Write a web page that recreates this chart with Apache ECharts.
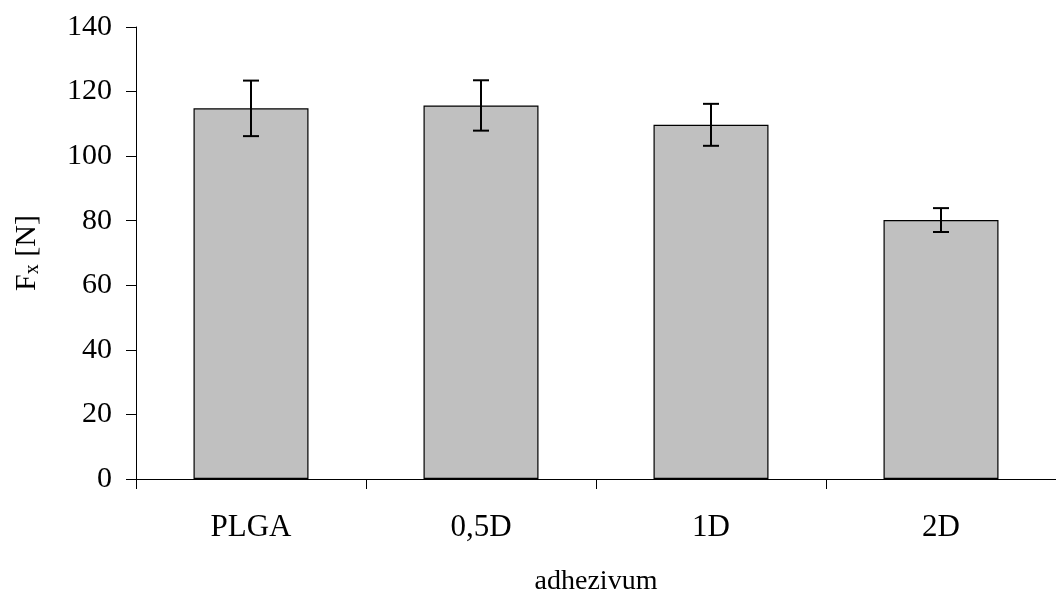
<!DOCTYPE html>
<html>
<head>
<meta charset="utf-8">
<script src="https://cdn.jsdelivr.net/npm/echarts@6/dist/echarts.min.js"></script>
<style>
  html, body { margin: 0; padding: 0; background: #fff; overflow: hidden; }
  #chart { width: 1056px; height: 601px; }
</style>
</head>
<body>
<div id="chart"></div>
<script>
// Shear force per adhesive type, mean and standard deviation
const categories = ['PLGA', '0,5D', '1D', '2D'];
const means = [114.8, 115.7, 109.7, 80.2];
const deviations = [8.6, 7.8, 6.5, 3.7];
const yTicks = { min: 0, max: 140, interval: 20 };

const FONT = '"Liberation Serif", "Times New Roman", serif';

const errorData = categories.map((c, i) => [i, means[i] - deviations[i], means[i] + deviations[i]]);

const chart = echarts.init(document.getElementById('chart'));
chart.setOption({
  animation: false,
  backgroundColor: '#fff',
  grid: { left: 136, top: 27, width: 929, height: 454.5, containLabel: false },
  xAxis: {
    type: 'category',
    data: categories,
    name: 'adhezivum',
    nameLocation: 'middle',
    nameGap: 89,
    nameTextStyle: { fontFamily: FONT, fontSize: 28, color: '#000' },
    axisLine: { lineStyle: { color: '#000', width: 1 } },
    axisTick: { show: true, length: 10, lineStyle: { color: '#000' } },
    axisLabel: { fontFamily: FONT, fontSize: 31, color: '#000', margin: 33 },
    splitLine: { show: false }
  },
  yAxis: {
    type: 'value',
    min: yTicks.min,
    max: yTicks.max,
    interval: yTicks.interval,
    name: '{f|F}{s|x}{f| [N]}',
    nameLocation: 'middle',
    nameGap: 93,
    nameRotate: 90,
    nameTextStyle: {
      rich: {
        f: { fontFamily: FONT, fontSize: 30, color: '#000' },
        s: { fontFamily: FONT, fontSize: 20, color: '#000', padding: [12, 0, 0, 0] }
      }
    },
    axisLine: { show: true, lineStyle: { color: '#000', width: 1 } },
    axisTick: { show: true, length: 10, lineStyle: { color: '#000' } },
    axisLabel: { fontFamily: FONT, fontSize: 30, color: '#000', margin: 24 },
    splitLine: { show: false }
  },
  series: [
    {
      type: 'bar',
      data: means,
      barWidth: '50%',
      itemStyle: { color: '#c0c0c0', borderColor: '#000', borderWidth: 1.2 },
      z: 2
    },
    {
      type: 'custom',
      data: errorData,
      z: 5,
      renderItem: function (params, api) {
        const x = api.value(0);
        const lo = api.coord([x, api.value(1)]);
        const hi = api.coord([x, api.value(2)]);
        const half = 8;
        const style = { stroke: '#000', lineWidth: 2 };
        return {
          type: 'group',
          children: [
            { type: 'line', shape: { x1: hi[0], y1: hi[1], x2: lo[0], y2: lo[1] }, style: style },
            { type: 'line', shape: { x1: hi[0] - half, y1: hi[1], x2: hi[0] + half, y2: hi[1] }, style: style },
            { type: 'line', shape: { x1: lo[0] - half, y1: lo[1], x2: lo[0] + half, y2: lo[1] }, style: style }
          ]
        };
      }
    }
  ]
});
</script>
</body>
</html>
